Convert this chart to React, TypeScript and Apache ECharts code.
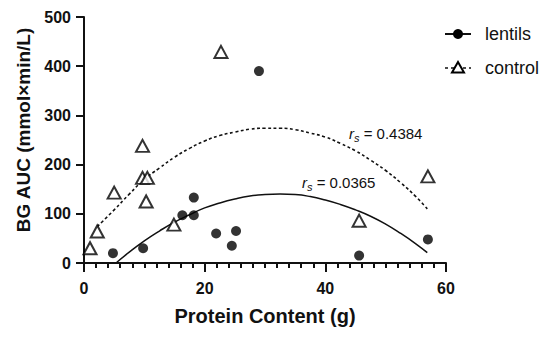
import React, { useEffect, useRef } from "react";
import * as echarts from "echarts";

// Scatter data: [protein g, BG AUC]
const lentilsPoints: number[][] = [
  [4.8, 20], [9.8, 30], [16.3, 97], [18.2, 133], [18.2, 97], [21.9, 60],
  [24.5, 35], [25.2, 65], [29.0, 390], [45.6, 15], [57.0, 48],
];
const controlPoints: number[][] = [
  [1.0, 30], [2.2, 64], [5.0, 143], [9.7, 238], [9.7, 173], [10.5, 173],
  [10.3, 125], [14.9, 78], [22.7, 429], [45.6, 86], [57.0, 176],
];
// Fitted curves
const lentilsCurve: number[][] = [
  [5.3, 0], [7.5, 22], [10, 45], [12.5, 65], [15, 83], [17.5, 98], [20, 112],
  [22.5, 122], [25, 130], [27.5, 136], [30, 139], [32.5, 140], [35, 139],
  [37.5, 135], [40, 128], [42.5, 119], [45, 108], [47.5, 95], [50, 79],
  [52.5, 60], [55, 39], [56.9, 21],
];
const controlCurve: number[][] = [
  [2.2, 74], [5, 108], [7.5, 140], [10, 170], [12.5, 193], [15, 215],
  [17.5, 233], [20, 248], [22.5, 259], [25, 266], [27.5, 272], [30, 274],
  [32.5, 274], [35, 271], [37.5, 264], [40, 256], [42.5, 243], [45, 228],
  [47.5, 209], [50, 188], [52.5, 163], [55, 135], [56.9, 110],
];
const seriesNames = ["lentils", "control"];
const xTitle = "Protein Content (g)";
const yTitle = "BG AUC (mmol×min/L)";
const rsLabels = ["0.0365", "0.4384"];

const FONT = "'Liberation Sans', Arial, Helvetica, sans-serif";

export default function App() {
  const ref = useRef<HTMLDivElement>(null);
  useEffect(() => {
    if (!ref.current) return;
    const chart = echarts.init(ref.current, null, { renderer: "svg" });
    const rich = {
      r: { fontStyle: "italic", fontSize: 15, fontFamily: FONT, fill: "#111", verticalAlign: "middle" },
      s: { fontStyle: "italic", fontSize: 11, fontFamily: FONT, fill: "#111", padding: [10, 0, 0, 0], verticalAlign: "middle" },
      t: { fontSize: 15, fontFamily: FONT, fill: "#111", verticalAlign: "middle" },
    };
    chart.setOption({
      animation: false,
      backgroundColor: "#fff",
      grid: { left: 84, right: 104, top: 17, bottom: 74, containLabel: false },
      xAxis: [
        {
          type: "value",
          min: 0,
          max: 60,
          interval: 20,
          name: xTitle,
          nameLocation: "middle",
          nameGap: 43,
          nameTextStyle: { fontFamily: FONT, fontWeight: "bold", fontSize: 20, color: "#111" },
          axisLine: { show: true, lineStyle: { color: "#111", width: 2 } },
          axisTick: { show: true, length: 9, lineStyle: { color: "#111", width: 2 } },
          axisLabel: { margin: 17, fontFamily: FONT, fontWeight: "bold", fontSize: 16, color: "#111" },
          splitLine: { show: false },
        },
        {
          type: "value",
          position: "bottom",
          min: 0,
          max: 60,
          interval: 2,
          axisLine: { show: false },
          axisTick: { show: true, length: 5, lineStyle: { color: "#111", width: 2 } },
          axisLabel: { show: false },
          splitLine: { show: false },
        },
      ],
      yAxis: {
        type: "value",
        min: 0,
        max: 500,
        interval: 100,
        name: yTitle,
        nameLocation: "middle",
        nameGap: 51,
        nameTextStyle: { fontFamily: FONT, fontWeight: "bold", fontSize: 19, color: "#111", padding: [0, 0, 0, 20] },
        axisLine: { show: true, lineStyle: { color: "#111", width: 2 } },
        axisTick: { show: true, length: 8, lineStyle: { color: "#111", width: 2 } },
        axisLabel: { margin: 13, fontFamily: FONT, fontWeight: "bold", fontSize: 16, color: "#111" },
        splitLine: { show: false },
      },
      series: [
        {
          name: seriesNames[0] + " fit",
          type: "line",
          data: lentilsCurve,
          smooth: true,
          showSymbol: false,
          lineStyle: { color: "#111", width: 1.5 },
          z: 2,
        },
        {
          name: seriesNames[1] + " fit",
          type: "line",
          data: controlCurve,
          smooth: true,
          showSymbol: false,
          lineStyle: { color: "#111", width: 1.6, type: [3, 2.5] },
          z: 2,
        },
        {
          name: seriesNames[0],
          type: "scatter",
          data: lentilsPoints,
          symbol: "circle",
          symbolSize: 10,
          itemStyle: { color: "#000" },
          z: 4,
        },
        {
          name: seriesNames[1],
          type: "scatter",
          data: controlPoints,
          symbol: "triangle",
          symbolSize: [13, 12],
          itemStyle: { color: "#fff", borderColor: "#000", borderWidth: 2 },
          z: 5,
        },
      ],
      graphic: [
        // legend
        { type: "line", shape: { x1: 445, y1: 34, x2: 471, y2: 34 }, style: { stroke: "#111", lineWidth: 2 } },
        { type: "circle", shape: { cx: 458, cy: 34, r: 5 }, style: { fill: "#000" } },
        { type: "text", style: { x: 485, y: 34, text: seriesNames[0], font: `18px ${FONT}`, fill: "#111", verticalAlign: "middle" } },
        { type: "line", shape: { x1: 445, y1: 68, x2: 471, y2: 68 }, style: { stroke: "#111", lineWidth: 1.5, lineDash: [3, 3] } },
        { type: "polygon", shape: { points: [[458, 62], [452, 72.5], [464, 72.5]] }, style: { fill: "#fff", stroke: "#000", lineWidth: 2 } },
        { type: "text", style: { x: 485, y: 68, text: seriesNames[1], font: `18px ${FONT}`, fill: "#111", verticalAlign: "middle" } },
        // r_s annotations
        { type: "text", style: { x: 302, y: 182, text: `{r|r}{s|s}{t| = ${rsLabels[0]}}`, rich, verticalAlign: "middle" } },
        { type: "text", style: { x: 349, y: 133, text: `{r|r}{s|s}{t| = ${rsLabels[1]}}`, rich, verticalAlign: "middle" } },
      ],
    });
    return () => chart.dispose();
  }, []);
  return <div ref={ref} style={{ position: "fixed", left: 0, top: 0, width: 550, height: 337 }} />;
}
